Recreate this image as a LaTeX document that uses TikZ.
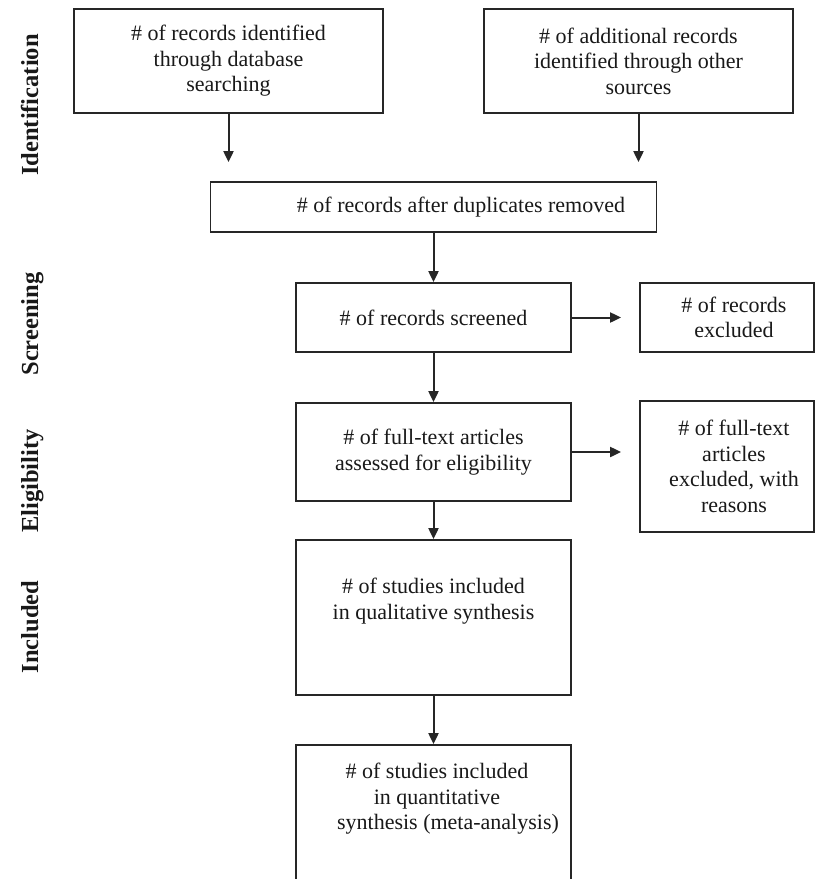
\documentclass[tikz,border=0pt]{standalone}
\usepackage{fontspec}
\setmainfont{Liberation Serif}
\usetikzlibrary{arrows.meta}
\begin{document}
\begin{tikzpicture}[x=1pt,y=-1pt,
  box/.style={draw=black!85, line width=1.8pt, rectangle, inner sep=0pt, align=center,
    font=\fontsize{22}{25.5}\selectfont, text=black!90},
  txt/.style={inner sep=0pt, align=center, font=\fontsize{22}{25.5}\selectfont, text=black!90},
  arr/.style={line width=2pt, draw=black!85, -{Triangle[length=11pt,width=10pt]}},
  side/.style={rotate=90, anchor=base, inner sep=0pt, font=\fontsize{24.5}{28}\selectfont\bfseries, text=black!90}]
\useasboundingbox (0,0) rectangle (816,879);
\clip (0,0) rectangle (816,879);
\fill[white] (0,0) rectangle (816,879);

\node[box, minimum width=309pt, minimum height=104pt] (a) at (228.5,61)
  {\# of records identified\\through database\\searching};
\node[box, minimum width=309pt, minimum height=104pt] (b) at (638.5,61)
  {\# of additional records\\identified through other\\sources};
\node[box, minimum width=446pt, minimum height=50pt] (c) at (433.5,207) {};
\node[txt] (ct) at (461,207) {\# of records after duplicates removed};
\node[box, minimum width=275pt, minimum height=69pt] (d) at (433.5,317.5)
  {\# of records screened};
\node[box, minimum width=174pt, minimum height=69pt] (e) at (727,317.5) {};
\node[txt] (et) at (734,317.5) {\# of records\\excluded};
\node[box, minimum width=275pt, minimum height=98pt] (f) at (433.5,452)
  {\# of full-text articles\\assessed for eligibility};
\node[box, minimum width=174pt, minimum height=131pt] (g) at (727,466.5) {};
\node[txt] (gt) at (734,466.5) {\# of full-text\\articles\\excluded, with\\reasons};
\node[box, minimum width=275pt, minimum height=155pt] (h) at (433.5,617.5) {};
\node[txt] (ht) at (433.5,601) {\# of studies included\\in qualitative synthesis};
\node[box, minimum width=275pt, minimum height=155pt] (i) at (433.5,822.5) {};
\node[txt] (it) at (437,799) {\# of studies included\\in quantitative\\\hspace*{1em}synthesis (meta-analysis)};

\draw[arr, shorten >=19pt] (a.south) -- (a.south |- c.north);
\draw[arr, shorten >=19pt] (b.south) -- (b.south |- c.north);
\draw[arr] (c.south) -- (d.north);
\draw[arr, shorten >=18pt] (d.east) -- (e.west);
\draw[arr] (d.south) -- (f.north);
\draw[arr, shorten >=18pt] (f.east) -- (f.east -| g.west);
\draw[arr] (f.south) -- (h.north);
\draw[arr] (h.south) -- (i.north);

\node[side] (l1) at (38,105) {Identification};
\node[side] (l2) at (38,324) {Screening};
\node[side] (l3) at (38,481) {Eligibility};
\node[side] (l4) at (38,627) {Included};
\end{tikzpicture}
\end{document}
